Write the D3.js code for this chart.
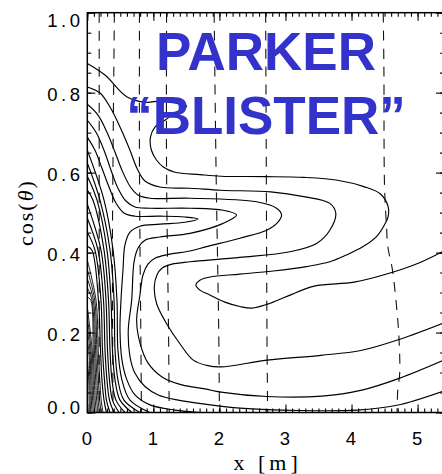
<!DOCTYPE html>
<html>
<head>
<meta charset="utf-8">
<script src="https://cdn.jsdelivr.net/npm/d3@7"></script>
<style>
  body { margin: 0; background: #fff; }
  svg { display: block; }
</style>
</head>
<body>
<svg id="chart" width="442" height="474"></svg>
<script>
// ---- axis values ----
const xTicks = [0, 1, 2, 3, 4, 5];
const xTickLabels = ["0", "1", "2", "3", "4", "5"];
const yTicks = [0, 0.2, 0.4, 0.6, 0.8, 1.0];
const yTickLabels = ["0.0", "0.2", "0.4", "0.6", "0.8", "1.0"];
const xTitle = "x [m]";
const titleLines = ["PARKER", "\u201CBLISTER\u201D"];

// ---- contour lines, [x (m), cos(theta)] ----
const tongue1 = [[0,0.873],[0.268,0.844],[0.596,0.790],[0.888,0.776],[1.10,0.779],[1.327,0.774],[1.504,0.766],
  [1.327,0.749],[1.175,0.731],[1.024,0.714],[0.956,0.689],[0.971,0.656],[1.05,0.631],[1.15,0.614],[1.327,0.601],
  [1.705,0.595],[2.023,0.591],[2.673,0.590],[3.278,0.588],[3.788,0.581],[4.186,0.565],[4.443,0.546],[4.554,0.515],
  [4.554,0.490],[4.504,0.471],[4.378,0.440],[4.176,0.415],[3.924,0.394],[3.672,0.377],[3.319,0.365],[2.814,0.354],
  [2.31,0.346],[1.856,0.339],[1.705,0.331],[1.644,0.319],[1.705,0.306],[1.856,0.294],[2.083,0.276],[2.31,0.265],
  [2.492,0.261],[2.729,0.271],[3.032,0.291],[3.434,0.316],[4.039,0.326],[4.545,0.347],[5.048,0.376],[5.396,0.404]];

const tongue2 = [[0,0.814],[0.192,0.799],[0.344,0.764],[0.495,0.714],[0.646,0.656],[0.752,0.611],[0.873,0.579],
  [1.10,0.564],[1.554,0.561],[2.023,0.556],[2.779,0.552],[3.278,0.540],[3.672,0.523],[3.762,0.498],[3.672,0.456],
  [3.471,0.423],[3.067,0.402],[2.31,0.388],[1.554,0.377],[1.281,0.371],[1.13,0.361],[1.054,0.344],[1.014,0.314],
  [1.05,0.272],[1.201,0.222],[1.402,0.172],[1.604,0.131],[1.806,0.118],[2.023,0.114],[2.719,0.131],[3.536,0.143],
  [4.141,0.155],[4.746,0.184],[5.396,0.224]];

const tongue3 = [[0,0.771],[0.162,0.744],[0.298,0.701],[0.42,0.651],[0.525,0.606],[0.646,0.566],[0.767,0.544],
  [0.949,0.536],[1.554,0.536],[2.563,0.527],[2.865,0.511],[2.941,0.494],[2.89,0.477],[2.714,0.456],[2.31,0.436],
  [1.806,0.415],[1.554,0.404],[1.251,0.396],[1.024,0.386],[0.918,0.371],[0.843,0.344],[0.797,0.294],[0.747,0.231],
  [0.797,0.174],[0.918,0.124],[1.13,0.089],[1.433,0.069],[1.781,0.059],[2.023,0.051],[2.719,0.040],[3.551,0.041],
  [4.156,0.056],[4.731,0.086],[5.396,0.131]];

const tongue4 = [[0,0.731],[0.132,0.701],[0.253,0.656],[0.359,0.606],[0.464,0.561],[0.585,0.529],[0.722,0.514],
  [0.949,0.511],[1.554,0.511],[2.057,0.506],[2.26,0.494],[2.057,0.473],[1.554,0.448],[1.10,0.439],[0.873,0.431],
  [0.767,0.411],[0.707,0.376],[0.672,0.281],[0.62,0.206],[0.646,0.140],[0.722,0.098],[0.873,0.065],[1.074,0.044],
  [1.377,0.031],[1.781,0.021],[2.31,0.011],[3.218,0.005],[4.08,0.006],[4.685,0.018],[5.396,0.054]];

const tongue5 = [[0,0.689],[0.116,0.656],[0.222,0.611],[0.329,0.564],[0.434,0.524],[0.555,0.499],[0.722,0.491],
  [1.10,0.491],[1.478,0.489],[1.675,0.484],[1.478,0.476],[1.10,0.471],[0.797,0.466],[0.646,0.451],[0.57,0.419],
  [0.54,0.356],[0.51,0.281],[0.495,0.206],[0.525,0.131],[0.601,0.081],[0.722,0.044],[0.949,0.019],[1.327,0.006],
  [1.705,0]];

// outer members of the steep family near x = 0
const steepLines = [
  [[0,0.656],[0.253,0.531],[0.39,0.406],[0.449,0.281],[0.464,0.156],[0.525,0.081],[0.646,0.031],[0.949,0]],
  [[0,0.624],[0.192,0.531],[0.344,0.406],[0.405,0.281],[0.42,0.156],[0.464,0.081],[0.555,0.031],[0.797,0]],
  [[0,0.591],[0.147,0.531],[0.298,0.406],[0.359,0.281],[0.381,0.156],[0.42,0.081],[0.495,0.031],[0.676,0]],
  [[0,0.556],[0.086,0.531],[0.253,0.406],[0.321,0.281],[0.344,0.156],[0.374,0.081],[0.434,0.031],[0.57,0]],
  [[0,0.521],[0.207,0.406],[0.283,0.281],[0.306,0.156],[0.336,0.081],[0.381,0.031],[0.48,0]],
  [[0,0.486],[0.162,0.406],[0.245,0.281],[0.268,0.156],[0.298,0.081],[0.336,0.031],[0.405,0]],
  [[0,0.451],[0.116,0.406],[0.207,0.281],[0.23,0.156],[0.26,0.081],[0.29,0.031],[0.344,0]],
  [[0,0.416],[0.071,0.406],[0.169,0.281],[0.2,0.156],[0.222,0.081],[0.253,0.031],[0.29,0]]
];

// inner, tightly packed members (hatched wedge along x = 0)
const wedgeLines = [
  [[0,0.381],[0.132,0.281],[0.165,0.156],[0.19,0.081],[0.21,0.031],[0.238,0]],
  [[0,0.358],[0.112,0.281],[0.145,0.156],[0.168,0.081],[0.186,0.031],[0.212,0]],
  [[0,0.335],[0.092,0.281],[0.126,0.156],[0.147,0.081],[0.163,0.031],[0.186,0]],
  [[0,0.312],[0.072,0.281],[0.108,0.156],[0.127,0.081],[0.141,0.031],[0.161,0]],
  [[0,0.289],[0.052,0.281],[0.090,0.156],[0.107,0.081],[0.120,0.031],[0.137,0]],
  [[0,0.264],[0.073,0.156],[0.089,0.081],[0.100,0.031],[0.114,0]],
  [[0,0.238],[0.056,0.156],[0.071,0.081],[0.081,0.031],[0.092,0]],
  [[0,0.210],[0.039,0.156],[0.054,0.081],[0.062,0.031],[0.071,0]],
  [[0,0.180],[0.022,0.156],[0.038,0.081],[0.044,0.031],[0.051,0]],
  [[0,0.140],[0.022,0.081],[0.027,0.031],[0.032,0]]
];

// dashed reference curves
const guides = [
  [[0.18,1],[0.18,0]],
  [[0.41,1],[0.39,0.65],[0.38,0.4],[0.39,0]],
  [[0.79,1],[0.79,0.6],[0.81,0.2],[0.82,0]],
  [[1.20,1],[1.20,0.6],[1.23,0.2],[1.24,0]],
  [[1.92,1],[1.95,0.6],[1.99,0.2],[2.0,0]],
  [[2.70,1],[2.71,0.6],[2.72,0.2],[2.73,0]],
  [[4.48,1],[4.49,0.864],[4.50,0.564],[4.53,0.464],[4.55,0.414],[4.62,0.356],[4.70,0.231],[4.72,0.181],
   [4.73,0.099],[4.70,0.056],[4.69,0]]
];

// ---- scales ----
const svg = d3.select("#chart");
const x = d3.scaleLinear().domain([0, 5.4]).range([87.3, 444]);
const y = d3.scaleLinear().domain([0, 1]).range([412.5, 12.7]);

svg.append("defs").append("clipPath").attr("id", "plotClip")
  .append("rect").attr("x", x(0)).attr("y", y(1)).attr("width", x(5.4) - x(0)).attr("height", y(0) - y(1));

const path = d3.line()
  .x(d => x(d[0])).y(d => y(d[1]))
  .curve(d3.curveCatmullRom.alpha(0.5));

const plot = svg.append("g").attr("clip-path", "url(#plotClip)");

// dashed curves
plot.append("g").selectAll("path").data(guides).join("path")
  .attr("d", path).attr("fill", "none").attr("stroke", "#111")
  .attr("stroke-width", 1.1).attr("stroke-dasharray", "10,8");

// contours
const contours = [tongue1, tongue2, tongue3, tongue4, tongue5, ...steepLines];
plot.append("g").selectAll("path").data(contours).join("path")
  .attr("d", path).attr("fill", "none").attr("stroke", "#000")
  .attr("stroke-width", 1.15).attr("stroke-linejoin", "round");

plot.append("g").selectAll("path").data(wedgeLines).join("path")
  .attr("d", path).attr("fill", "none").attr("stroke", "#000")
  .attr("stroke-width", 0.9).attr("stroke-linejoin", "round");

// ---- axes (ticks point inward) ----
const xMinor = d3.range(0, 54).map(i => i / 10);
const yMinor = d3.range(0, 21).map(i => i / 20);
const axisStyle = g => {
  g.select(".domain").remove();
  g.selectAll("line").attr("stroke", "#000").attr("stroke-width", 1.1);
  g.selectAll("text").remove();
};
svg.append("g").attr("transform", `translate(0,${y(0)})`)
  .call(d3.axisBottom(x).tickValues(xMinor).tickSize(-4)).call(axisStyle);
svg.append("g").attr("transform", `translate(0,${y(0)})`)
  .call(d3.axisBottom(x).tickValues(xTicks).tickSize(-8)).call(axisStyle);
svg.append("g").attr("transform", `translate(0,${y(1)})`)
  .call(d3.axisTop(x).tickValues(xMinor).tickSize(-4)).call(axisStyle);
svg.append("g").attr("transform", `translate(0,${y(1)})`)
  .call(d3.axisTop(x).tickValues(xTicks).tickSize(-8)).call(axisStyle);
svg.append("g").attr("transform", `translate(${x(0)},0)`)
  .call(d3.axisLeft(y).tickValues(yMinor).tickSize(-4)).call(axisStyle);
svg.append("g").attr("transform", `translate(${x(0)},0)`)
  .call(d3.axisLeft(y).tickValues(yTicks).tickSize(-8)).call(axisStyle);
svg.append("g").attr("transform", `translate(${x(5.4)},0)`)
  .call(d3.axisRight(y).tickValues(yMinor).tickSize(-4)).call(axisStyle);
svg.append("g").attr("transform", `translate(${x(5.4)},0)`)
  .call(d3.axisRight(y).tickValues(yTicks).tickSize(-8)).call(axisStyle);

svg.append("rect")
  .attr("x", x(0)).attr("y", y(1))
  .attr("width", x(5.4) - x(0)).attr("height", y(0) - y(1))
  .attr("fill", "none").attr("stroke", "#000").attr("stroke-width", 1.5);

// tick labels
const tickFont = "'Liberation Sans', Arial, sans-serif";
svg.append("g").selectAll("text").data(xTicks).join("text")
  .attr("x", d => x(d) - 0.5).attr("y", 445)
  .attr("text-anchor", "middle")
  .style("font-family", tickFont).style("font-size", "18.5px")
  .text((d, i) => xTickLabels[i]);

svg.append("g").selectAll("text").data(yTicks).join("text")
  .attr("x", 83.5)
  .attr("y", d => y(d) + (d === 1 ? 14 : d === 0 ? 1.5 : 8.3))
  .attr("text-anchor", "end")
  .style("font-family", tickFont).style("font-size", "18.5px")
  .style("letter-spacing", "3.5px")
  .text((d, i) => yTickLabels[i]);

// axis titles
const serif = "'Liberation Serif', 'Times New Roman', serif";
svg.append("text")
  .attr("x", (x(0) + x(5.4)) / 2 + 2).attr("y", 469.5)
  .attr("text-anchor", "middle")
  .style("font-family", serif).style("font-size", "22px")
  .style("letter-spacing", "4px")
  .text(xTitle);

const yTitle = svg.append("text")
  .attr("transform", `translate(33,${(y(0) + y(1)) / 2}) rotate(-90)`)
  .attr("text-anchor", "middle")
  .style("font-family", serif).style("font-size", "22px")
  .style("letter-spacing", "2px");
yTitle.append("tspan").text("cos(");
yTitle.append("tspan").style("font-style", "italic").text("\u03B8");
yTitle.append("tspan").text(")");

// overlay title
svg.append("g").selectAll("text").data(titleLines).join("text")
  .attr("x", 266).attr("y", (d, i) => i === 0 ? 70 : 133.5)
  .attr("text-anchor", "middle")
  .style("font-family", "'Liberation Sans', Arial, sans-serif")
  .style("font-weight", "bold").style("font-size", "53px")
  .attr("fill", "#3333CC")
  .text(d => d);
</script>
</body>
</html>
